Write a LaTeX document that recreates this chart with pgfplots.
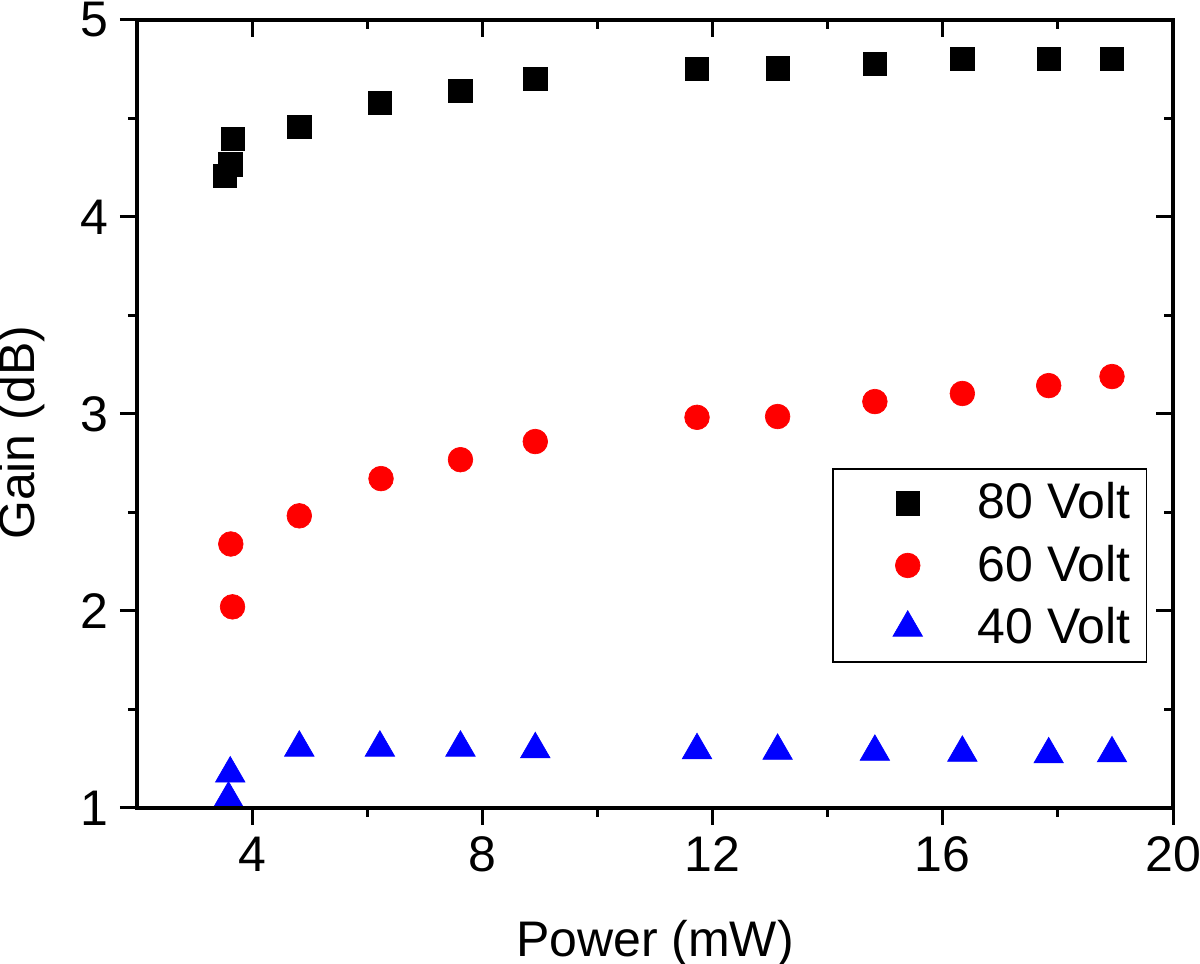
\documentclass[border=0pt]{standalone}
\usepackage{fontspec}
\setmainfont{Liberation Sans}
\usepackage{pgfplots}
\pgfplotsset{compat=1.18}

\pgfplotstableread{
x y
3.53 4.208
3.62 4.268
3.66 4.395
4.82 4.456
6.22 4.580
7.62 4.639
8.92 4.700
11.73 4.752
13.13 4.754
14.82 4.778
16.34 4.803
17.84 4.803
18.94 4.803
}\dataA
\pgfplotstableread{
x y
3.63 2.340
3.66 2.021
4.82 2.483
6.24 2.672
7.62 2.768
8.92 2.860
11.73 2.983
13.13 2.987
14.82 3.063
16.34 3.104
17.84 3.144
18.94 3.190
}\dataB
\pgfplotstableread{
x y
3.62 1.175
3.59 1.048
4.82 1.306
6.22 1.306
7.62 1.306
8.92 1.298
11.73 1.293
13.13 1.290
14.82 1.285
16.34 1.280
17.84 1.272
18.94 1.277
}\dataC

\pgfplotsset{
  common/.style={
    scale only axis,
    width=310.8pt, height=236.4pt,
    xmin=2, xmax=20, ymin=1, ymax=5,
    xtick={4,8,12,16,20}, ytick={1,2,3,4,5},
    minor x tick num=1, minor y tick num=1,
    major tick length=5.1pt, minor tick length=2.7pt,
    every tick/.style={line width=0.9pt, black},
    axis line style={line width=1pt},
    /pgf/number format/assume math mode=true,
    tick label style={font=\fontsize{15}{18}\selectfont},
  }
}

\begin{document}
\begin{tikzpicture}
\begin{axis}[
  common, name=ax,
  tick align=outside,
  xtick pos=left, ytick pos=left,
  clip=false,
  xlabel={Power (mW)}, ylabel={Gain (dB)},
  label style={font=\fontsize{15}{18}\selectfont},
  xlabel style={at={(axis description cs:0.5,-0.1726)}, anchor=center},
  ylabel style={at={(axis description cs:-0.111,0.476)}, anchor=center, rotate=0},
  legend image code/.code={%
    \draw[#1] plot coordinates {(17.4pt,0pt)};
    \path (0pt,-5pt) (38.1pt,5pt);
  },
  legend style={
    at={(axis description cs:0.6709,0.4315)}, anchor=north west,
    draw=black, line width=0.5pt,
    font=\fontsize{15}{18}\selectfont,
    inner xsep=4.8pt, inner ysep=1pt,
    nodes={inner xsep=0pt, inner ysep=3.15pt},
    row sep=0pt, column sep=0pt,
    cells={anchor=west},
  },
]
\addplot[only marks, mark=square*, mark size=3.5pt, mark options={fill=black, draw=black, line width=0.2pt}] table {\dataA};
\addlegendentry{80 Volt}
\addplot[only marks, mark=*, mark size=3.7pt, mark options={fill=red, draw=red, line width=0.2pt}] table {\dataB};
\addlegendentry{60 Volt}
\addplot[only marks, mark=triangle*, mark size=5.1pt, mark options={fill=blue, draw=blue, line width=0.2pt}] table {\dataC};
\addlegendentry{40 Volt}
\end{axis}
\begin{axis}[
  common,
  tick align=inside,
  xtick pos=right, ytick pos=right,
  xticklabels={}, yticklabels={},
]
\end{axis}
\pgfresetboundingbox
\path[use as bounding box] ([xshift=-41.1pt,yshift=-46.8pt]ax.south west) rectangle ([xshift=8.1pt,yshift=6pt]ax.north east);
\end{tikzpicture}
\end{document}
